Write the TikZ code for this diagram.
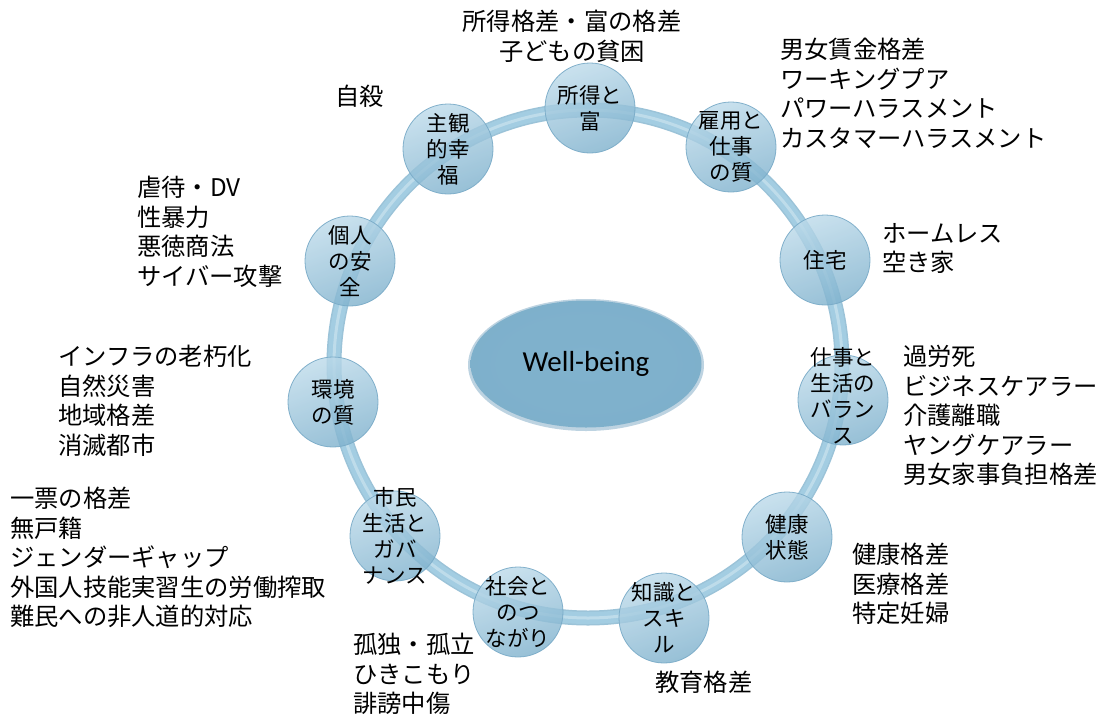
\documentclass[tikz,border=0pt]{standalone}
\usepackage{fontspec}
\usetikzlibrary{shapes.geometric}
\setmainfont{Noto Sans CJK JP}
\newfontfamily\wbfont{Carlito}
\definecolor{ringc}{HTML}{A3CDE2}
\definecolor{ringedge}{HTML}{82B4CF}
\definecolor{balltop}{HTML}{BCDAEA}
\definecolor{ballbot}{HTML}{7EB1CD}
\definecolor{balledge}{HTML}{78AAC7}
\definecolor{ellc}{HTML}{80B2CD}
\definecolor{elledge}{HTML}{6E9FBD}
\begin{document}
\begin{tikzpicture}[x=1pt,y=-1pt,
  ball/.style={circle,minimum size=90pt,inner sep=0pt,draw=balledge,line width=0.8pt,
    top color=balltop,bottom color=ballbot,shading angle=20,fill opacity=0.8,draw opacity=0.9},
  balltext/.style={align=center,inner sep=0pt,font=\fontsize{21.5}{26}\selectfont},
  lab/.style={align=left,anchor=north west,inner sep=0pt,font=\fontsize{24.3}{29.5}\selectfont}]
\useasboundingbox (0,0) rectangle (1101,718);
\fill[white] (0,0) rectangle (1101,718);
% ring
\coordinate (rc) at (588,364);
\draw[ringedge,line width=15pt,opacity=0.8] (rc) circle[radius=254];
\draw[ringc,line width=12pt] (rc) circle[radius=254];
\draw[white,line width=3pt,opacity=0.3] (rc) circle[radius=254];
% balls
\node[ball] (b1) at (590,108) {};
\node[ball] (b2) at (731,147) {};
\node[ball] (b3) at (825,260) {};
\node[ball] (b4) at (843,400) {};
\node[ball] (b5) at (787,537) {};
\node[ball] (b6) at (664,618) {};
\node[ball] (b7) at (518,612) {};
\node[ball] (b8) at (395,536) {};
\node[ball] (b9) at (333,402) {};
\node[ball] (b10) at (350,261) {};
\node[ball] (b11) at (448,149) {};
\node[balltext] (t1) at (b1) {所得と\\富};
\node[balltext] (t2) at (b2) {雇用と\\仕事\\の質};
\node[balltext] (t3) at (b3) {住宅};
\node[balltext] (t4) at ([yshift=4]b4) {仕事と\\生活の\\バラン\\ス};
\node[balltext] (t5) at (b5) {健康\\状態};
\node[balltext] (t6) at (b6) {知識と\\スキ\\ル};
\node[balltext] (t7) at (b7) {社会と\\のつ\\ながり};
\node[balltext] (t8) at (b8) {市民\\生活と\\ガバ\\ナンス};
\node[balltext] (t9) at (b9) {環境\\の質};
\node[balltext] (t10) at (b10) {個人\\の安\\全};
\node[balltext] (t11) at (b11) {主観\\的幸\\福};
% centre ellipse
\fill[elledge,opacity=0.45] (586,365) ellipse[x radius=118,y radius=66];
\node[ellipse,draw=none,minimum width=231pt,minimum height=127pt,inner sep=0pt,
  inner color=ellc,outer color=ellc!90!elledge,font=\wbfont\fontsize{29}{30}\selectfont] (wb) at (586,364) {Well-being};
% labels
\node[lab,align=center,anchor=north] (l1) at (572,10) {所得格差・富の格差\\子どもの貧困};
\node[lab] (l2) at (780,38) {男女賃金格差\\ワーキングプア\\パワーハラスメント\\カスタマーハラスメント};
\node[lab] (l3) at (335,85) {自殺};
\node[lab] (l4) at (137,176) {虐待・DV\\性暴力\\悪徳商法\\サイバー攻撃};
\node[lab] (l5) at (882,223) {ホームレス\\空き家};
\node[lab] (l6) at (58,345) {インフラの老朽化\\自然災害\\地域格差\\消滅都市};
\node[lab] (l7) at (903,345) {過労死\\ビジネスケアラー\\介護離職\\ヤングケアラー\\男女家事負担格差};
\node[lab] (l8) at (10,487) {一票の格差\\無戸籍\\ジェンダーギャップ\\外国人技能実習生の労働搾取\\難民への非人道的対応};
\node[lab] (l9) at (852,543) {健康格差\\医療格差\\特定妊婦};
\node[lab] (l10) at (353,633) {孤独・孤立\\ひきこもり\\誹謗中傷};
\node[lab] (l11) at (655,671) {教育格差};
\end{tikzpicture}
\end{document}
